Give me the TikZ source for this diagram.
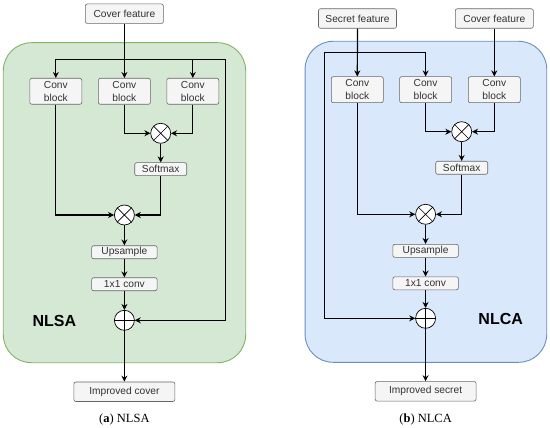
\documentclass[tikz,border=0pt]{standalone}
\usepackage{fontspec}
\setmainfont{Liberation Serif}
\setsansfont{Liberation Sans}
\usetikzlibrary{arrows.meta}
\definecolor{gfill}{HTML}{D5E8D4}
\definecolor{gline}{HTML}{82B366}
\definecolor{bfill}{HTML}{DAE8FC}
\definecolor{bline}{HTML}{6C8EBF}
\definecolor{boxfill}{HTML}{F5F5F5}
\definecolor{boxline}{HTML}{666666}
\definecolor{boxtext}{HTML}{333333}
\tikzset{
  panel/.style={rounded corners=28pt, line width=0.9pt, inner sep=0pt},
  blk/.style={draw=boxline, fill=boxfill, rounded corners=2pt, text=boxtext, line width=0.6pt,
    inner sep=0pt, align=center, font=\sffamily\fontsize{10.2}{13}\selectfont},
  featbox/.style={blk, minimum width=78pt, minimum height=19.5pt},
  convbox/.style={blk, minimum width=52pt, minimum height=26pt},
  softbox/.style={blk, minimum width=52pt, minimum height=13pt},
  widebox/.style={blk, minimum width=65.5pt, minimum height=13pt},
  outbox/.style={blk, minimum width=101pt, minimum height=19.5pt},
  op/.style={circle, draw=black, fill=white, line width=0.7pt, minimum size=20pt, inner sep=0pt},
  arr/.style={line width=1.2pt, -{Stealth[length=6pt,width=6pt]}},
  tag/.style={font=\sffamily\bfseries\fontsize{16}{18}\selectfont},
  captext/.style={font=\fontsize{12.5}{14}\selectfont}
}
\newcommand{\mulmark}[1]{\draw[line width=0.6pt] (#1.north west) -- (#1.south east) (#1.north east) -- (#1.south west);}
\newcommand{\plusmark}[1]{\draw[line width=0.6pt] (#1.north) -- (#1.south) (#1.west) -- (#1.east);}
\begin{document}
\begin{tikzpicture}[x=1pt,y=-1pt]
\useasboundingbox (0,0) rectangle (550,428);
% panels
\node[panel, draw=gline, fill=gfill, minimum width=242.4pt, minimum height=320pt] (panA) at (124.5,202.7) {};
\node[panel, draw=bline, fill=bfill, minimum width=241.7pt, minimum height=321pt] (panB) at (425.9,201.8) {};
% ---------- left (NLSA) ----------
\node[featbox] (cfA) at (124.4,13.7) {Cover feature};
\node[convbox] (cvA1) at (55.8,91.3) {Conv\\block};
\node[convbox] (cvA2) at (124.4,91.3) {Conv\\block};
\node[convbox] (cvA3) at (192.8,91.3) {Conv\\block};
\node[op] (mA1) at (160.7,133.3) {};
\node[softbox] (smA) at (160.7,169.2) {Softmax};
\node[op] (mA2) at (124.4,215) {};
\node[widebox] (upA) at (124.4,252.2) {Upsample};
\node[widebox] (ccA) at (124.4,284.2) {1x1 conv};
\node[op] (pA) at (124.4,320.3) {};
\node[outbox] (imA) at (124.4,391.7) {Improved cover};
\node[tag] (tA) at (54.3,320.7) {NLSA};
\node[captext] (capA) at (124.4,419) {(\textbf{a}) NLSA};
\mulmark{mA1}\mulmark{mA2}\plusmark{pA}
\coordinate (jA) at (124.4,59.3);
\coordinate (rA) at (225.7,59.3);
\draw[arr] (cfA.south) -- (cvA2.north);
\draw[arr] (jA) -| (cvA1.north);
\draw[arr] (jA) -| (cvA3.north);
\draw[arr] (jA) -- (rA) |- (pA.east);
\draw[arr] (cvA2.south) |- (mA1.west);
\draw[arr] (cvA3.south) |- (mA1.east);
\draw[arr] (mA1.south) -- (smA.north);
\draw[arr] (cvA1.south) |- (mA2.west);
\draw[arr] (smA.south) |- (mA2.east);
\draw[arr] (mA2.south) -- (upA.north);
\draw[arr] (upA.south) -- (ccA.north);
\draw[arr] (ccA.south) -- (pA.north);
\draw[arr] (pA.south) -- (imA.north);
% ---------- right (NLCA) ----------
\node[featbox] (sfB) at (357.5,18.5) {Secret feature};
\node[featbox] (cfB) at (494.3,18.5) {Cover feature};
\node[convbox] (cvB1) at (357.3,89.7) {Conv\\block};
\node[convbox] (cvB2) at (425.6,89.7) {Conv\\block};
\node[convbox] (cvB3) at (494.3,89.7) {Conv\\block};
\node[op] (mB1) at (461.7,131.7) {};
\node[softbox] (smB) at (461.7,167.8) {Softmax};
\node[op] (mB2) at (425.6,214.3) {};
\node[widebox] (upB) at (425.6,250.8) {Upsample};
\node[widebox] (ccB) at (425.6,283.3) {1x1 conv};
\node[op] (pB) at (425.6,318.3) {};
\node[outbox] (imB) at (425.6,391.3) {Improved secret};
\node[tag] (tB) at (500.7,319.3) {NLCA};
\node[captext] (capB) at (425.6,419) {(\textbf{b}) NLCA};
\mulmark{mB1}\mulmark{mB2}\plusmark{pB}
\coordinate (jB) at (357.3,52.7);
\coordinate (lB) at (324.3,52.7);
\draw[arr] (sfB.south) -- (cvB1.north);
\draw[arr] (jB) -| (cvB2.north);
\draw[arr] (jB) -- (lB) |- (pB.west);
\draw[arr] (cfB.south) -- (cvB3.north);
\draw[arr] (cvB2.south) |- (mB1.west);
\draw[arr] (cvB3.south) |- (mB1.east);
\draw[arr] (mB1.south) -- (smB.north);
\draw[arr] (cvB1.south) |- (mB2.west);
\draw[arr] (smB.south) |- (mB2.east);
\draw[arr] (mB2.south) -- (upB.north);
\draw[arr] (upB.south) -- (ccB.north);
\draw[arr] (ccB.south) -- (pB.north);
\draw[arr] (pB.south) -- (imB.north);
\end{tikzpicture}
\end{document}
